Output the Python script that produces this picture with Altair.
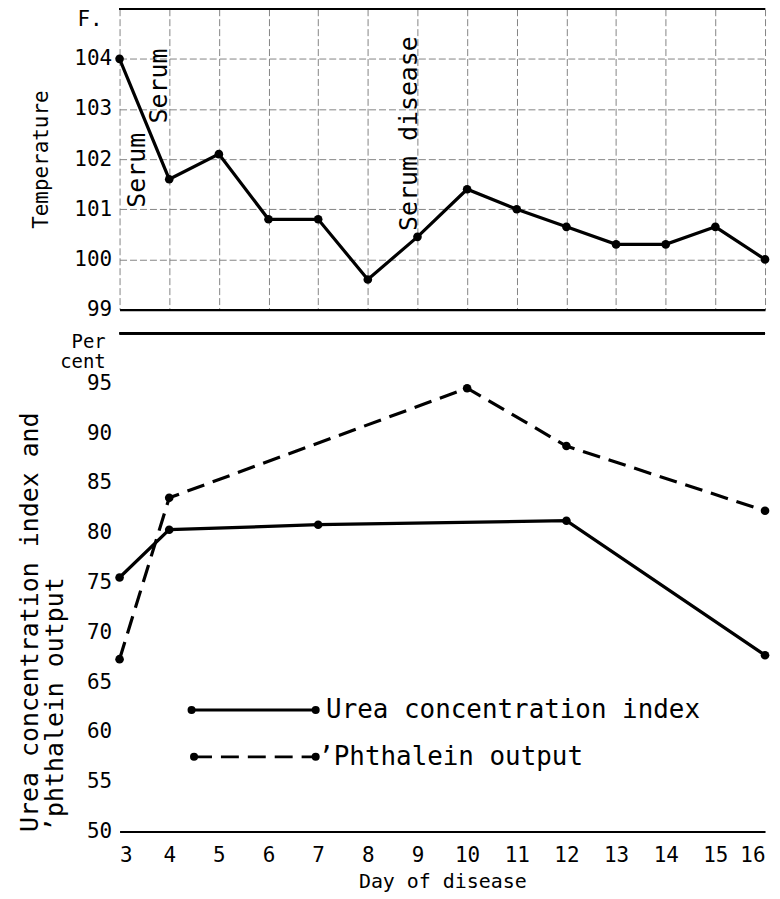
import altair as alt
import pandas as pd

# ---------------- data ----------------
days = list(range(3, 17))
temperature = [104.0, 101.6, 102.1, 100.8, 100.8, 99.6, 100.45, 101.4,
               101.0, 100.65, 100.3, 100.3, 100.65, 100.0]

urea_days = [3, 4, 7, 12, 16]
urea_index = [75.5, 80.3, 80.8, 81.2, 67.7]

phth_days = [3, 4, 10, 12, 16]
phth_output = [67.3, 83.5, 94.5, 88.7, 82.2]

temp_ticks = [99, 100, 101, 102, 103, 104]
pct_ticks = [50, 55, 60, 65, 70, 75, 80, 85, 90, 95]
series_names = ["Urea concentration index", "\u2019Phthalein output"]
annotations = ["Serum", "Serum", "Serum disease"]

FONT = "DejaVu Sans Mono"

# ---------------- shared scales ----------------
xscale = alt.Scale(domain=[3, 16], nice=False, zero=False)
tscale = alt.Scale(domain=[99, 105], nice=False, zero=False)
pscale = alt.Scale(domain=[50, 100], nice=False, zero=False)

# ---------------- top panel: temperature ----------------
temp_df = pd.DataFrame({"day": days, "temp": temperature})

xt = alt.X("day:Q", scale=xscale,
           axis=alt.Axis(values=days, labels=False, ticks=False, title=None,
                         domainColor="black", domainWidth=2.2))
yt = alt.Y("temp:Q", scale=tscale,
           axis=alt.Axis(values=temp_ticks, title="Temperature",
                         labelPadding=8, titlePadding=22))

t_base = alt.Chart(temp_df).encode(x=xt, y=yt)
t_line = t_base.mark_line(color="black", strokeWidth=3.2)
t_pts = t_base.mark_point(filled=True, color="black", size=75, opacity=1)

t_top = alt.Chart(temp_df).mark_rule(color="black", strokeWidth=2.2).encode(
    y=alt.datum(105, scale=tscale))

ann_df = pd.DataFrame({
    "day": [3.36, 3.8, 8.84],
    "temp": [101.78, 103.46, 102.51],
    "label": annotations,
})
t_ann = alt.Chart(ann_df).mark_text(angle=270, font=FONT, fontSize=25,
                                    color="black", align="center",
                                    baseline="middle").encode(
    x=alt.X("day:Q", scale=xscale), y=alt.Y("temp:Q", scale=tscale),
    text="label:N")

f_df = pd.DataFrame({"day": [2.66], "temp": [104.77], "label": ["F."]})
t_f = alt.Chart(f_df).mark_text(font=FONT, fontSize=21, color="black",
                                align="right", baseline="middle").encode(
    x=alt.X("day:Q", scale=xscale), y=alt.Y("temp:Q", scale=tscale),
    text="label:N")

top = alt.layer(t_line, t_pts, t_top, t_ann, t_f).properties(width=648, height=302)

# ---------------- bottom panel: percentages ----------------
urea_df = pd.DataFrame({"day": urea_days, "pct": urea_index})
phth_df = pd.DataFrame({"day": phth_days, "pct": phth_output})

xb = alt.X("day:Q", scale=xscale,
           axis=alt.Axis(values=days, title="Day of disease", labelPadding=13,
                         titlePadding=6, titleFontSize=20,
                         domainColor="black", domainWidth=2.2))
yb = alt.Y("pct:Q", scale=pscale,
           axis=alt.Axis(values=pct_ticks,
                         title=["Urea concentration index and",
                                "\u2019phthalein output"],
                         titleAnchor="start", titleLineHeight=25,
                         titleFontSize=25, labelPadding=8, titlePadding=19))

# legend background (hides grid)
box = alt.Chart(urea_df).mark_rect(color="white").encode(
    x=alt.datum(4.03, scale=xscale), x2=alt.datum(14.97),
    y=alt.datum(55.25, scale=pscale), y2=alt.datum(64.75))

u_base = alt.Chart(urea_df).encode(x=xb, y=yb)
u_line = u_base.mark_line(color="black", strokeWidth=3.2)
u_pts = u_base.mark_point(filled=True, color="black", size=75, opacity=1)

p_base = alt.Chart(phth_df).encode(x=alt.X("day:Q", scale=xscale), y=alt.Y("pct:Q", scale=pscale))
p_line = p_base.mark_line(color="black", strokeWidth=3.2, strokeDash=[18, 9])
p_pts = p_base.mark_point(filled=True, color="black", size=75, opacity=1)

leg_u = pd.DataFrame({"day": [4.45, 6.95], "pct": [62.2, 62.2]})
leg_p = pd.DataFrame({"day": [4.5, 6.95], "pct": [57.5, 57.5]})
lu_line = alt.Chart(leg_u).mark_line(color="black", strokeWidth=2.8).encode(
    x=alt.X("day:Q", scale=xscale), y=alt.Y("pct:Q", scale=pscale))
lu_pts = lu_line.mark_point(filled=True, color="black", size=65, opacity=1)
lp_line = alt.Chart(leg_p).mark_line(color="black", strokeWidth=2.8,
                                     strokeDash=[18, 9]).encode(
    x=alt.X("day:Q", scale=xscale), y=alt.Y("pct:Q", scale=pscale))
lp_pts = lp_line.mark_point(filled=True, color="black", size=65, opacity=1)

leg_txt_df = pd.DataFrame({"day": [7.16, 7.0], "pct": [62.2, 57.5],
                           "label": series_names})
leg_txt = alt.Chart(leg_txt_df).mark_text(font=FONT, fontSize=26, color="black",
                                          align="left", baseline="middle").encode(
    x=alt.X("day:Q", scale=xscale), y=alt.Y("pct:Q", scale=pscale),
    text="label:N")

b_top = alt.Chart(urea_df).mark_rule(color="black", strokeWidth=2.2).encode(
    y=alt.datum(100, scale=pscale))

pc_df = pd.DataFrame({"day": [2.72, 2.72], "pct": [99.1, 97.1],
                      "label": ["Per", "cent"]})
pc_txt = alt.Chart(pc_df).mark_text(font=FONT, fontSize=19, color="black",
                                    align="right", baseline="middle").encode(
    x=alt.X("day:Q", scale=xscale), y=alt.Y("pct:Q", scale=pscale),
    text="label:N")

bottom = alt.layer(box, u_line, u_pts, p_line, p_pts, lu_line, lu_pts,
                   lp_line, lp_pts, leg_txt, b_top, pc_txt).properties(
    width=648, height=500)

chart = alt.vconcat(top, bottom, spacing=12).properties(
    padding={"left": 9, "top": -3, "right": 0, "bottom": 0}
).configure_axis(
    labelFont=FONT, titleFont=FONT, labelFontSize=21, titleFontSize=21,
    labelColor="black", titleColor="black", titleFontWeight="normal",
    gridColor="#777777", gridDash=[7, 3], gridWidth=0.9, ticks=False
).configure_axisY(domain=False).configure_view(stroke=None)

chart.save("out.html", embed_options={"renderer": "svg", "actions": False})
